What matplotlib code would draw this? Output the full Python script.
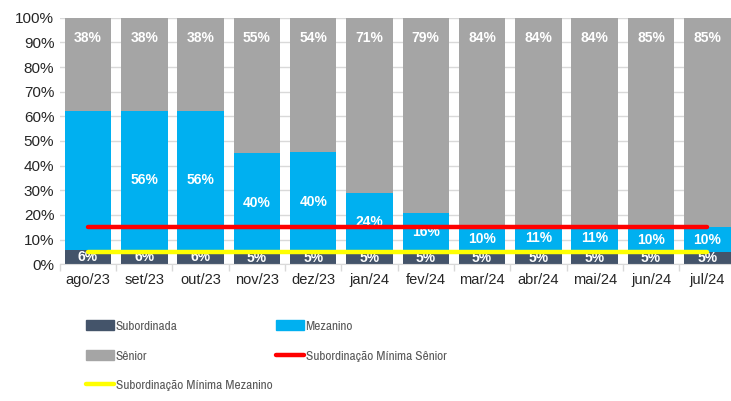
import numpy as np
import matplotlib
matplotlib.use("Agg")
import matplotlib.pyplot as plt
from matplotlib.patches import Patch
from matplotlib.lines import Line2D
from matplotlib import font_manager
from matplotlib.font_manager import FontProperties

plt.rcParams['font.family'] = ['Liberation Sans', 'DejaVu Sans']

# dados
meses = ['ago/23', 'set/23', 'out/23', 'nov/23', 'dez/23', 'jan/24',
         'fev/24', 'mar/24', 'abr/24', 'mai/24', 'jun/24', 'jul/24']
subordinada = [6, 6, 6, 5, 5, 5, 5, 5, 5, 5, 5, 5]
mezanino = [56, 56, 56, 40, 40, 24, 16, 10, 11, 11, 10, 10]
senior = [38, 38, 38, 55, 54, 71, 79, 84, 84, 84, 85, 85]
min_senior = [15] * 12
min_mezanino = [5] * 12

sub = np.array(subordinada, float)
mez = np.array(mezanino, float)
sen = np.array(senior, float)
tot = sub + mez + sen
sub_p = sub / tot * 100
mez_p = mez / tot * 100
sen_p = sen / tot * 100

cor_sub = '#44546A'
cor_mez = '#00B0F0'
cor_sen = '#A5A5A5'

fig = plt.figure(figsize=(7.31, 4.01), dpi=100)
ax = fig.add_axes([59.85 / 731, 1 - 264.3 / 401, 675.6 / 731, 246.6 / 401])

x = np.arange(len(meses))
w = 0.826
ax.bar(x, sub_p, w, color=cor_sub, zorder=2)
ax.bar(x, mez_p, w, bottom=sub_p, color=cor_mez, zorder=2)
ax.bar(x, sen_p, w, bottom=sub_p + mez_p, color=cor_sen, zorder=2)

ax.plot(x, min_senior, color='#FF0000', lw=3.2, solid_capstyle='round', zorder=5)
ax.plot(x, min_mezanino, color='#FFFF00', lw=3.2, solid_capstyle='round', zorder=5)

lbl = dict(color='white', fontsize=10, fontweight='bold', ha='center', va='center', zorder=4)
for i in range(len(meses)):
    ax.text(x[i], sub_p[i] / 2, f'{subordinada[i]}%', **lbl)
    if i > 0:  # o rótulo de ago/23 não aparece no original
        ax.text(x[i], sub_p[i] + mez_p[i] / 2, f'{mezanino[i]}%', **lbl)
    ax.annotate(f'{senior[i]}%', (x[i], 100), xytext=(0, -14.5), textcoords='offset points',
                color='white', fontsize=10, fontweight='bold', ha='center', va='center', zorder=4)

ax.set_xlim(-0.5, len(meses) - 0.5)
ax.set_ylim(0, 100)
ax.set_yticks(np.arange(0, 101, 10))
ax.set_yticklabels([f'{v}%' for v in range(0, 101, 10)])
ax.set_xticks(x)
ax.set_xticklabels(meses)
ax.set_xticks(np.arange(-0.5, len(meses), 1), minor=True)
ax.tick_params(axis='x', which='major', length=0, pad=6, labelsize=10.5, colors='#262626')
ax.tick_params(axis='x', which='minor', length=5, color='#D9D9D9', width=1)
ax.tick_params(axis='y', length=0, pad=4, labelsize=11, colors='#262626')
ax.yaxis.grid(True, color='#D9D9D9', lw=1, zorder=0)
ax.set_axisbelow(True)
for s in ['top', 'right', 'left']:
    ax.spines[s].set_visible(False)
ax.spines['bottom'].set_color('#D9D9D9')

# legenda com fonte estreita (tipo Arial Narrow), se houver alguma instalada
cand = None
for f in font_manager.fontManager.ttflist:
    nome = (f.name + ' ' + f.fname).lower()
    estreita = ('narrow' in nome or 'condensed' in nome or 'condensed' in str(f.stretch))
    if estreita and f.style == 'normal' and f.weight in (400, 'normal', 'regular') \
            and 'mono' not in nome and 'serif' not in f.name.lower():
        if cand is None or 'narrow' in nome:
            cand = f
fp = FontProperties(fname=cand.fname) if cand else FontProperties(family=['Liberation Sans'])

# ajusta o tamanho para a largura do texto mais longo
rend = fig.canvas.get_renderer()
fp.set_size(10)
t = fig.text(0, 0, 'Subordinação Mínima Mezanino', fontproperties=fp)
larg = t.get_window_extent(rend).width
t.remove()
tam = min(max(10 * 157 / larg, 9.0), 12.5)
fp.set_size(tam)
em = tam * 100 / 72

handles = [
    Patch(color=cor_sub, label='Subordinada'),
    Patch(color=cor_sen, label='Sênior'),
    Line2D([], [], color='#FFFF00', lw=3.2, solid_capstyle='round', label='Subordinação Mínima Mezanino'),
    Patch(color=cor_mez, label='Mezanino'),
    Line2D([], [], color='#FF0000', lw=3.2, solid_capstyle='round', label='Subordinação Mínima Sênior'),
]
leg = fig.legend(handles=handles, ncol=2, loc='upper left', bbox_to_anchor=(86 / 731, 1 - 320 / 401),
                 frameon=False, prop=fp, handlelength=28 / em, handleheight=0.7,
                 handletextpad=2 / em, columnspacing=3 / em,
                 labelspacing=(32 - em) / em, borderpad=0, borderaxespad=0)
for t in leg.get_texts():
    t.set_color('#595959')

fig.savefig('out.png', dpi=100)
